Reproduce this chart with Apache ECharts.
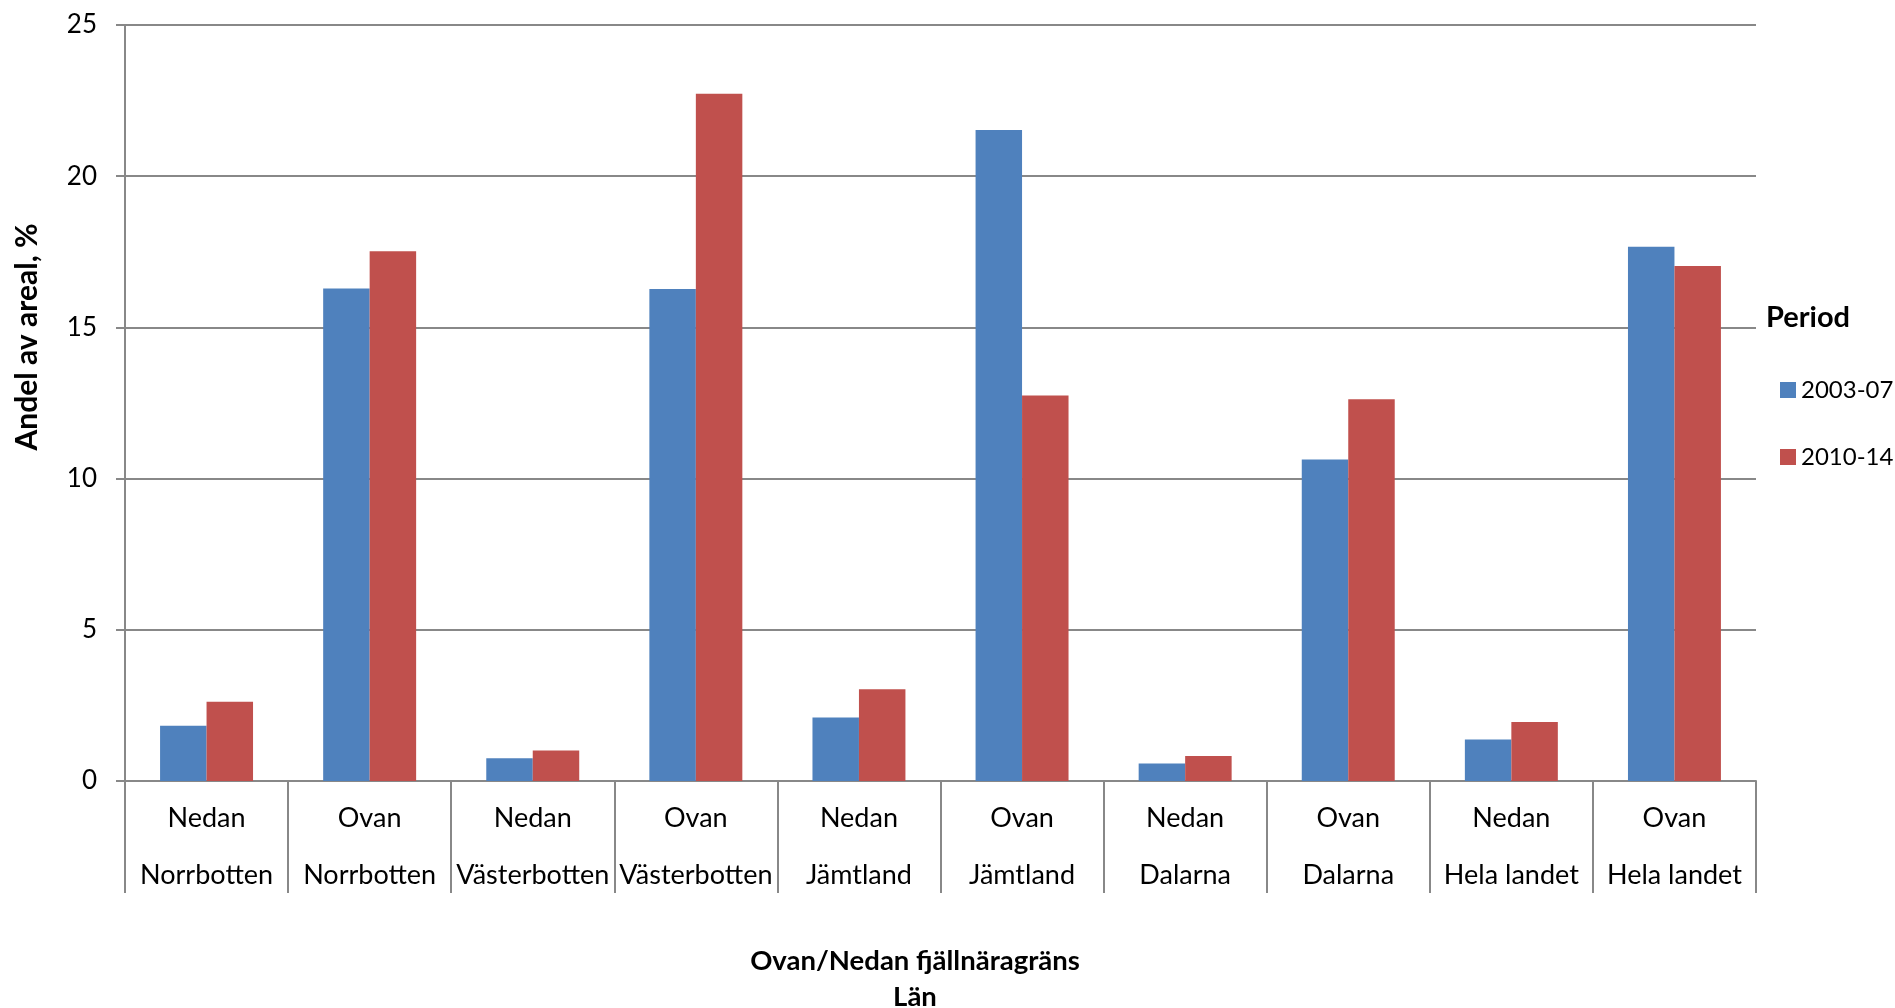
<!DOCTYPE html>
<html>
<head>
<meta charset="utf-8">
<script src="https://cdn.jsdelivr.net/npm/echarts@6/dist/echarts.min.js"></script>
<style>
html,body{margin:0;padding:0;background:#fff;}
#chart{width:1895px;height:1008px;}
</style>
</head>
<body>
<div id="chart"></div>
<script>
// Data
const positions = ['Nedan','Ovan','Nedan','Ovan','Nedan','Ovan','Nedan','Ovan','Nedan','Ovan'];
const lans = ['Norrbotten','Norrbotten','Västerbotten','Västerbotten','Jämtland','Jämtland','Dalarna','Dalarna','Hela landet','Hela landet'];
const seriesNames = ['2003-07','2010-14'];
const values2003 = [1.83, 16.29, 0.75, 16.27, 2.10, 21.53, 0.58, 10.63, 1.37, 17.67];
const values2010 = [2.62, 17.52, 1.01, 22.73, 3.03, 12.75, 0.83, 12.62, 1.95, 17.03];
const yTicks = [0, 5, 10, 15, 20, 25];

const categories = positions.map((p, i) => p + '\n' + lans[i]);
const FONT = 'Lato, "Noto Sans", sans-serif';
const axisGray = '#888888';

const chart = echarts.init(document.getElementById('chart'), null, {renderer: 'canvas'});
chart.setOption({
  animation: false,
  backgroundColor: '#ffffff',
  textStyle: {fontFamily: FONT},
  grid: {left: 125, right: 139, top: 25, bottom: 227, containLabel: false},
  legend: {
    orient: 'vertical',
    left: 1775,
    top: 373,
    itemWidth: 16,
    itemHeight: 16,
    itemGap: 43,
    icon: 'rect',
    textStyle: {fontFamily: FONT, fontSize: 24, color: '#000'},
    data: seriesNames
  },
  xAxis: {
    type: 'category',
    data: categories,
    axisLine: {lineStyle: {color: axisGray, width: 2}},
    axisTick: {show: true, interval: 0, length: 112, lineStyle: {color: axisGray, width: 2}},
    axisLabel: {interval: 0, margin: 9, lineHeight: 57, fontSize: 27, color: '#000', fontFamily: FONT, align: 'center'},
    splitLine: {show: false}
  },
  yAxis: {
    type: 'value',
    min: yTicks[0],
    max: yTicks[yTicks.length - 1],
    interval: yTicks[1] - yTicks[0],
    axisLine: {show: true, lineStyle: {color: axisGray, width: 2}},
    axisTick: {show: true, length: 9, lineStyle: {color: axisGray, width: 2}},
    axisLabel: {margin: 28, fontSize: 26, color: '#000', fontFamily: FONT},
    splitLine: {show: true, lineStyle: {color: axisGray, width: 2}}
  },
  series: [
    {name: seriesNames[0], type: 'bar', data: values2003, barGap: '0%', barCategoryGap: '43%',
     itemStyle: {color: '#4F81BD'}},
    {name: seriesNames[1], type: 'bar', data: values2010, barGap: '0%', barCategoryGap: '43%',
     itemStyle: {color: '#C0504D'}}
  ],
  graphic: [
    {type: 'text', x: 27, y: 337, rotation: Math.PI / 2,
     style: {text: 'Andel av areal, %', fontFamily: FONT, fontSize: 30, fontWeight: 'bold', fill: '#000',
             align: 'center', verticalAlign: 'middle'}},
    {type: 'text', x: 915, y: 961,
     style: {text: 'Ovan/Nedan fjällnäragräns', fontFamily: FONT, fontSize: 27.5, fontWeight: 'bold', fill: '#000',
             align: 'center', verticalAlign: 'middle'}},
    {type: 'text', x: 915, y: 997,
     style: {text: 'Län', fontFamily: FONT, fontSize: 27.5, fontWeight: 'bold', fill: '#000',
             align: 'center', verticalAlign: 'middle'}},
    {type: 'text', x: 1766, y: 318,
     style: {text: 'Period', fontFamily: FONT, fontSize: 29, fontWeight: 'bold', fill: '#000',
             align: 'left', verticalAlign: 'middle'}}
  ]
});
</script>
</body>
</html>
